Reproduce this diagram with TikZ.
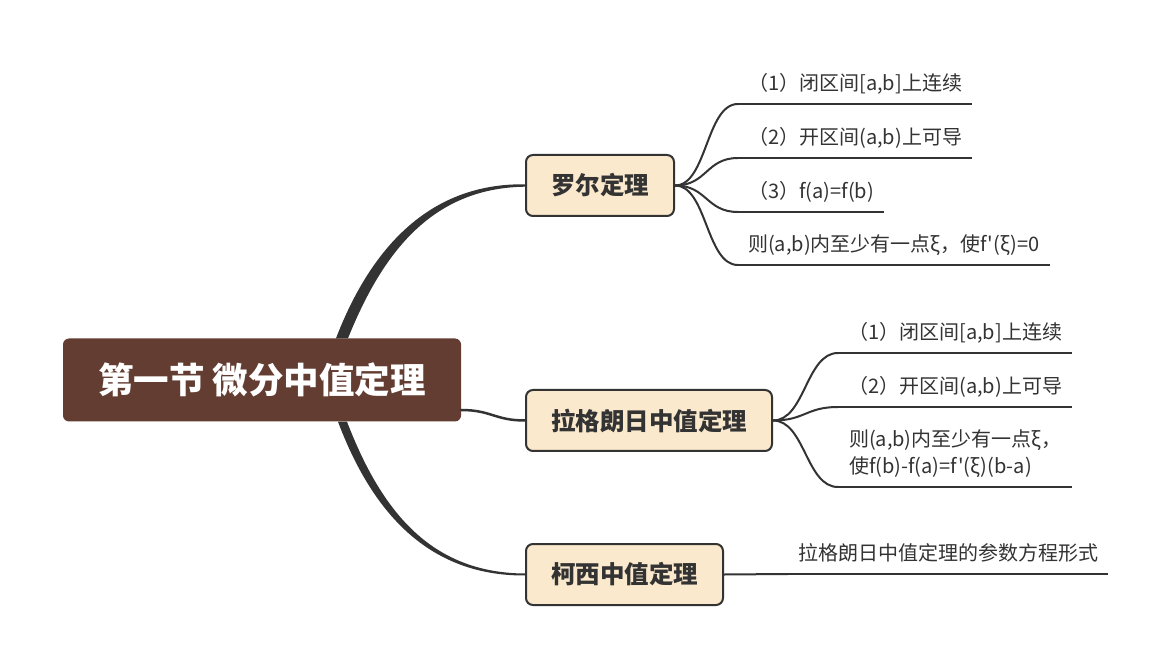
\documentclass[tikz,border=0pt]{standalone}
\usepackage{fontspec}
\setmainfont{Noto Sans CJK SC}[Ligatures=TeXOff]
\usetikzlibrary{calc,positioning}
\definecolor{bark}{HTML}{633D31}
\definecolor{cream}{HTML}{FAE9CC}
\definecolor{ink}{HTML}{333333}
\tikzset{
  rootbox/.style={fill=bark,rounded corners=6pt,minimum width=398pt,minimum height=83pt,text=white,font=\bfseries\fontsize{35.5}{35.5}\selectfont},
  topicbox/.style={anchor=west,fill=cream,draw=ink,line width=2pt,rounded corners=7pt,minimum height=61pt,inner xsep=25pt,text=ink,font=\bfseries\fontsize{24.5}{24.5}\selectfont},
  leaf/.style={anchor=south west,inner xsep=10pt,inner ysep=8pt,text depth=5pt,align=left,text=ink,font=\fontsize{20}{27}\selectfont},
  link/.style={draw=ink,line width=2pt,line cap=round},
  underline/.style={draw=ink,line width=2pt}
}

\begin{document}
\begin{tikzpicture}[x=1pt,y=-1pt,line join=round]
  \fill[white] (0,0) rectangle (1171,668);
  \useasboundingbox (0,0) rectangle (1171,668);
  % main topics
  \node[rootbox] (root) at (262,380) {第一节 微分中值定理};
  \node[topicbox] (rolle) at (525,185.5) {罗尔定理};
  \node[topicbox] (lag) at (525,420.5) {拉格朗日中值定理};
  \node[topicbox] (cauchy) at (525,574.5) {柯西中值定理};
  % tapered links from the root
  \fill[ink] ($(root.north)+(74,0)$) .. controls (370,250) and (428,183) .. ($(rolle.west)+(0,-1.2)$)
    -- ($(rolle.west)+(0,1.2)$) .. controls (431,188) and (382,254) .. ($(root.north)+(86,0)$) -- cycle;
  \fill[ink] ($(root.south)+(76,0)$) .. controls (372,512) and (428,576) .. ($(cauchy.west)+(0,1)$)
    -- ($(cauchy.west)+(0,-1)$) .. controls (430,573) and (381,510) .. ($(root.south)+(85,0)$) -- cycle;
  \draw[link,line width=2.5pt] ($(root.east)+(0,30)$) .. controls +(30,0) and +(-30,0) .. (lag.west);
  % leaves of rolle
  \node[leaf] (r1) at (738,104) {（1）闭区间[a,b]上连续};
  \node[leaf] (r2) at (738,158) {（2）开区间(a,b)上可导};
  \node[leaf] (r3) at (738,212) {（3）f(a)=f(b)};
  \node[leaf] (r4) at (738,265) {则(a,b)内至少有一点ξ，使f'(ξ)=0};
  \foreach \l in {r1,r2,r3,r4}{
    \draw[link] (rolle.east) .. controls +(32,0) and +(-32,0) .. (\l.south west);
    \draw[underline] (\l.south west) -- (\l.south east);
  }
  % leaves of lagrange
  \node[leaf] (g1) at (838,353) {（1）闭区间[a,b]上连续};
  \node[leaf] (g2) at (838,407) {（2）开区间(a,b)上可导};
  \node[leaf,minimum width=234pt] (g3) at (838,487) {则(a,b)内至少有一点ξ，\\使f(b)-f(a)=f'(ξ)(b-a)};
  \foreach \l in {g1,g2,g3}{
    \draw[link] (lag.east) .. controls +(32,0) and +(-32,0) .. (\l.south west);
    \draw[underline] (\l.south west) -- (\l.south east);
  }
  % leaf of cauchy
  \node[leaf] (c1) at (788,574) {拉格朗日中值定理的参数方程形式};
  \draw[link] (cauchy.east) .. controls +(30,0) and +(-30,0) .. (c1.south west);
  \draw[underline] (c1.south west) -- (c1.south east);
\end{tikzpicture}
\end{document}
